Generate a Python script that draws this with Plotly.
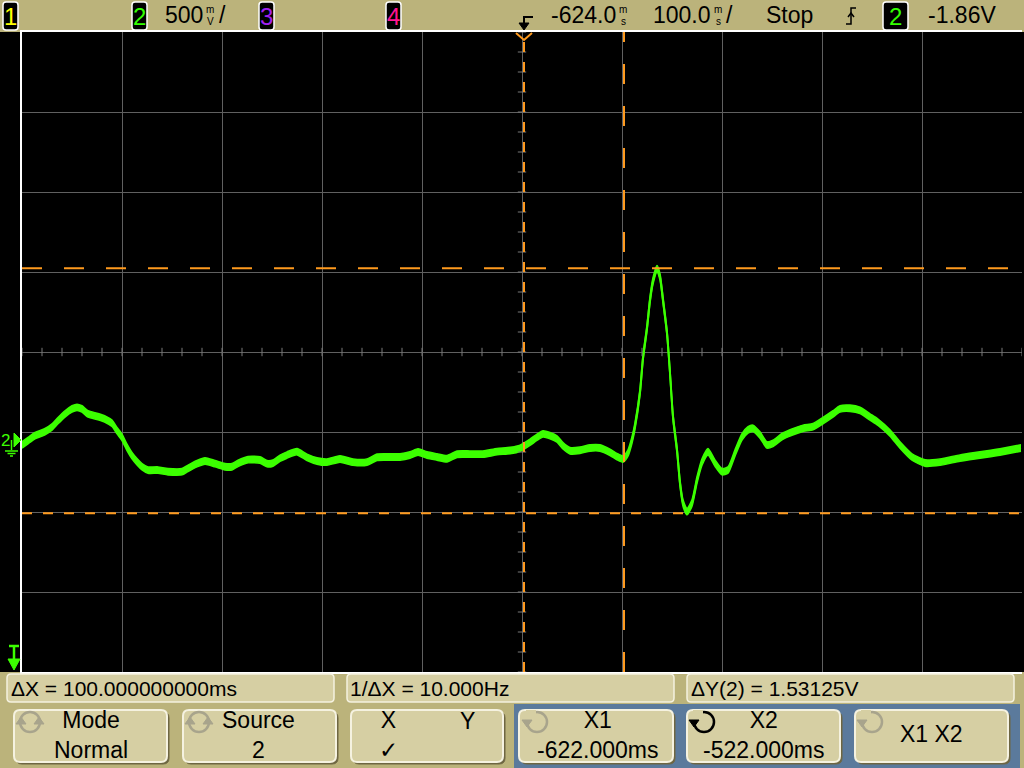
import plotly.graph_objects as go
import numpy as np

# ---------------- data (channel 2 acquisition) ----------------
time_ms = [-1124, -1118, -1111, -1101, -1094, -1088, -1081, -1074, -1069, -1064,
           -1058, -1048, -1041, -1034, -1029, -1024, -1019, -1014, -1009, -1004,
           -998, -988, -978, -964, -958, -949, -941, -931, -921, -914,
           -908, -898, -886, -879, -873, -866, -859, -849, -839, -829,
           -819, -806, -793, -779, -769, -759, -746, -736, -728, -719,
           -709, -699, -689, -676, -663, -649, -636, -626, -616, -609,
           -603, -596, -589, -583, -576, -566, -556, -546, -536, -529,
           -523, -518, -514, -511, -506, -503, -499, -496, -493, -489,
           -486, -483, -479, -476, -473, -469, -466, -463, -459, -454,
           -449, -444, -438, -431, -424, -418, -411, -404, -398, -393,
           -386, -379, -373, -364, -356, -343, -333, -323, -313, -306,
           -296, -286, -276, -268, -256, -246, -234, -221, -206, -186,
           -166, -146, -125]
ch2_volts = [-0.031, -0.004, 0.027, 0.052, 0.081, 0.121, 0.163, 0.194, 0.204, 0.194,
             0.163, 0.146, 0.131, 0.104, 0.058, 0.017, -0.046, -0.098, -0.136, -0.167,
             -0.188, -0.188, -0.198, -0.198, -0.177, -0.148, -0.131, -0.148, -0.167, -0.167,
             -0.146, -0.123, -0.125, -0.148, -0.144, -0.114, -0.094, -0.073, -0.108, -0.131,
             -0.138, -0.119, -0.138, -0.138, -0.108, -0.106, -0.106, -0.094, -0.075, -0.094,
             -0.106, -0.117, -0.089, -0.088, -0.088, -0.073, -0.066, -0.052, -0.014, 0.017,
             0.038, 0.027, 0.006, -0.036, -0.067, -0.064, -0.050, -0.050, -0.077, -0.104,
             -0.119, -0.081, 0.000, 0.088, 0.300, 0.513, 0.700, 0.875, 0.994, 1.070,
             1.019, 0.875, 0.669, 0.419, 0.144, -0.063, -0.269, -0.394, -0.448, -0.394,
             -0.250, -0.138, -0.073, -0.144, -0.198, -0.188, -0.081, 0.019, 0.063, 0.073,
             0.031, -0.031, -0.021, 0.021, 0.044, 0.073, 0.083, 0.121, 0.163, 0.194,
             0.198, 0.185, 0.144, 0.111, 0.044, -0.031, -0.106, -0.144, -0.138, -0.113,
             -0.094, -0.075, -0.050]

# scope settings
x_center_ms = -624.0
time_per_div = 100.0
volts_per_div = 0.5
screen_center_v = 0.55
x1_cursor = -622.0
x2_cursor = -522.0
y1_cursor = -0.458
y2_cursor = y1_cursor + 1.53125

# texts
ch_labels = ["1", "2", "3", "4"]
ch_colors = ["#FFFF00", "#33FF00", "#A020F0", "#FF1493"]
delta_x_text = "ΔX = 100.000000000ms"
inv_delta_x_text = "1/ΔX = 10.000Hz"
delta_y_text = "ΔY(2) = 1.53125V"

# ---------------- layout helpers ----------------
W, H = 1024, 768
ML, MR, MT, MB = 22, 2, 32, 96
PW, PH = W - ML - MR, H - MT - MB
NARROW = "Liberation Sans Narrow, Arial Narrow, Liberation Sans, Arial, sans-serif"
REG = "Liberation Sans, Arial, sans-serif"
GREEN = "#3CFF00"
ORANGE = "#FF9A1E"
KHAKI = "#BBB37B"
BTN = "#D6CFA3"


def fx(p):
    return (p - ML) / PW


def fy(p):
    return (H - MB - p) / PH


shapes = []
anns = []


def rrect(x0, y0, x1, y1, r, fill, line="white", lw=1.5, layer="above"):
    path = (f"M{fx(x0 + r)},{fy(y0)} L{fx(x1 - r)},{fy(y0)} Q{fx(x1)},{fy(y0)} {fx(x1)},{fy(y0 + r)} "
            f"L{fx(x1)},{fy(y1 - r)} Q{fx(x1)},{fy(y1)} {fx(x1 - r)},{fy(y1)} "
            f"L{fx(x0 + r)},{fy(y1)} Q{fx(x0)},{fy(y1)} {fx(x0)},{fy(y1 - r)} "
            f"L{fx(x0)},{fy(y0 + r)} Q{fx(x0)},{fy(y0)} {fx(x0 + r)},{fy(y0)} Z")
    shapes.append(dict(type="path", xref="paper", yref="paper", path=path, fillcolor=fill,
                       line=dict(color=line, width=lw), layer=layer))


def poly(pts, color, fill=None, lw=1.5, closed=False):
    path = "M" + " L".join(f"{fx(a)},{fy(b)}" for a, b in pts) + (" Z" if closed else "")
    shapes.append(dict(type="path", xref="paper", yref="paper", path=path,
                       fillcolor=fill if fill else "rgba(0,0,0,0)",
                       line=dict(color=color, width=lw), layer="above"))


def txt(s, x, y, size=24, color="black", anchor="center", font=NARROW):
    anns.append(dict(text=s, x=fx(x), y=fy(y), xref="paper", yref="paper", xanchor=anchor,
                     yanchor="middle", showarrow=False, borderpad=0,
                     font=dict(size=size, color=color, family=font)))


def unit_stack(top, bottom, x, yc=15):
    txt(top, x, yc - 6, size=10)
    txt(bottom, x, yc + 6, size=10)


def button(x0, y0, x1, y1):
    rrect(x0 + 2, y0 + 2, x1 + 2, y1 + 2, 6, "#6E6642", line="#6E6642", lw=1)
    rrect(x0, y0, x1, y1, 6, BTN, line="#F5F2E0", lw=2)


def knob_icon(cx, cy, color, double):
    shapes.append(dict(type="circle", xref="paper", yref="paper", x0=fx(cx - 10), x1=fx(cx + 10),
                       y0=fy(cy + 10), y1=fy(cy - 10), line=dict(color=color, width=2.5), layer="above"))
    if double:
        poly([(cx - 14, cy + 2), (cx - 4, cy + 2), (cx - 9, cy - 5)], color, fill=color, lw=1, closed=True)
        poly([(cx + 4, cy + 2), (cx + 14, cy + 2), (cx + 9, cy - 5)], color, fill=color, lw=1, closed=True)
    else:
        shapes.append(dict(type="rect", xref="paper", yref="paper", x0=fx(cx - 11), x1=fx(cx - 1),
                           y0=fy(cy - 1), y1=fy(cy - 12), fillcolor=BTN, line=dict(width=0), layer="above"))
        poly([(cx - 15, cy - 2), (cx - 5, cy - 2), (cx - 10, cy + 5)], color, fill=color, lw=1, closed=True)


# ---------------- figure ----------------
fig = go.Figure()

band = 0.02  # trace thickness (noise envelope), style
v = np.array(ch2_volts)
fig.add_trace(go.Scatter(x=time_ms, y=v - band, mode="lines", line=dict(color=GREEN, width=1.5, shape="spline", smoothing=0.6),
                         hoverinfo="skip"))
fig.add_trace(go.Scatter(x=time_ms, y=v + band, mode="lines", fill="tonexty", fillcolor=GREEN,
                         line=dict(color=GREEN, width=1.5, shape="spline", smoothing=0.6), hoverinfo="skip"))
fig.add_trace(go.Scatter(x=time_ms, y=v, mode="lines", line=dict(color=GREEN, width=2, shape="spline", smoothing=0.6),
                         hoverinfo="skip"))

x_lo = x_center_ms - 5 * time_per_div
x_hi = x_center_ms + 5 * time_per_div
y_lo = screen_center_v - 4 * volts_per_div
y_hi = screen_center_v + 4 * volts_per_div

# minor ticks on centre axes
tx = np.arange(x_lo, x_hi + 1e-9, time_per_div / 5)
fig.add_trace(go.Scatter(x=tx, y=[screen_center_v] * len(tx), mode="markers",
                         marker=dict(symbol="line-ns", size=6, line=dict(color="#7A7A7A", width=1)), hoverinfo="skip"))
ty = np.arange(y_lo, y_hi + 1e-9, volts_per_div / 4)
fig.add_trace(go.Scatter(x=[x_center_ms] * len(ty), y=ty, mode="markers",
                         marker=dict(symbol="line-ew", size=6, line=dict(color="#7A7A7A", width=1)), hoverinfo="skip"))

# black screen margins
shapes.append(dict(type="rect", xref="paper", yref="paper", x0=fx(0), x1=fx(W), y0=fy(672), y1=fy(32),
                   fillcolor="black", line=dict(width=0), layer="below"))

# cursors
shapes.append(dict(type="line", xref="x", yref="paper", x0=x1_cursor, x1=x1_cursor, y0=0, y1=1,
                   line=dict(color=ORANGE, width=2, dash="10px,10px")))
shapes.append(dict(type="line", xref="x", yref="paper", x0=x2_cursor, x1=x2_cursor, y0=0, y1=1,
                   line=dict(color=ORANGE, width=2, dash="20px,22px")))
shapes.append(dict(type="line", xref="paper", yref="y", x0=0, x1=1, y0=y1_cursor, y1=y1_cursor,
                   line=dict(color=ORANGE, width=2, dash="10px,11px")))
shapes.append(dict(type="line", xref="paper", yref="y", x0=0, x1=1, y0=y2_cursor, y1=y2_cursor,
                   line=dict(color=ORANGE, width=2, dash="20px,22px")))
# X1 cursor marker at top
poly([(516, 33), (524, 40), (532, 33)], ORANGE, lw=2)

# ---------------- top status bar ----------------
box_x = [3, 132, 259, 386]
for lab, col, bx in zip(ch_labels, ch_colors, box_x):
    rrect(bx, 2, bx + 15, 30, 3, "black", line="white", lw=1.5)
    txt(lab, bx + 7.5, 16, size=24, color=col)
txt("500", 204, 15, size=23, anchor="right")
unit_stack("m", "V", 210)
txt("/", 222, 15, size=23)

# trigger position marker
poly([(524, 24), (524, 17), (533, 17)], "black", lw=2)
poly([(519, 23), (529, 23), (524, 30)], "black", fill="black", lw=1, closed=True)
txt("-624.0", 617, 15, size=23, anchor="right")
unit_stack("m", "s", 623)
txt("100.0", 712, 15, size=23, anchor="right")
unit_stack("m", "s", 718)
txt("/", 729, 15, size=23)
txt("Stop", 789, 15, size=23)
# rising-edge trigger symbol
poly([(846, 24), (851, 24), (851, 8), (856, 8)], "black", lw=1.5)
poly([(848, 17), (851, 13), (854, 17)], "black", lw=1.5)
rrect(883, 2, 908, 30, 3, "black", line="white", lw=1.5)
txt("2", 895.5, 16, size=24, color="#33FF00")
txt("-1.86V", 997, 15, size=23, anchor="right")

# ---------------- left screen markers ----------------
txt("2", 5, 440, size=17, color=GREEN, font=REG)
poly([(14, 433), (21, 440), (14, 447)], GREEN, fill=GREEN, lw=1, closed=True)
poly([(11.5, 440), (11.5, 450)], GREEN, lw=1.5)
poly([(5, 451), (18, 451)], GREEN, lw=1.5)
poly([(7.5, 453.5), (15.5, 453.5)], GREEN, lw=1.5)
poly([(10, 456), (13, 456)], GREEN, lw=1.5)
# trigger level marker (T)
poly([(9, 646), (19, 646)], GREEN, lw=2.5)
poly([(14, 646), (14, 660)], GREEN, lw=2.5)
poly([(8, 659), (20, 659), (14, 670)], GREEN, fill=GREEN, lw=1, closed=True)

# ---------------- bottom softkey area ----------------
rrect(7, 674, 334, 702, 4, BTN, line="#F5F2E0", lw=1.5)
rrect(347, 674, 674, 702, 4, BTN, line="#F5F2E0", lw=1.5)
rrect(687, 674, 1014, 702, 4, BTN, line="#F5F2E0", lw=1.5)
txt(delta_x_text, 10, 688, size=21, font=REG, anchor="left")
txt(inv_delta_x_text, 349, 688, size=21, font=REG, anchor="left")
txt(delta_y_text, 690, 688, size=21, font=REG, anchor="left")

shapes.append(dict(type="rect", xref="paper", yref="paper", x0=fx(514), x1=fx(1020), y0=fy(768), y1=fy(704),
                   fillcolor="#5B7A9C", line=dict(width=0), layer="above"))

button(14, 710, 167, 762)
button(183, 710, 336, 762)
button(351, 710, 503, 762)
button(519, 710, 673, 762)
button(687, 710, 840, 762)
button(855, 710, 1008, 762)

knob_icon(30, 722, "#A8A48C", True)
knob_icon(199, 722, "#A8A48C", True)
knob_icon(537, 722, "#A8A48C", False)
knob_icon(704, 722, "black", False)
knob_icon(872, 722, "#A8A48C", False)

BS = 23
txt("Mode<br>Normal", 91, 735, size=BS)
txt("Source<br>2", 258, 735, size=BS)
txt("X<br>✓", 388, 735, size=BS)
txt("Y", 467, 721, size=BS)
txt("X1<br>-622.000ms", 597, 735, size=BS)
txt("X2<br>-522.000ms", 763, 735, size=BS)
txt("X1 X2", 931, 734, size=BS)

fig.update_layout(
    width=W, height=H, autosize=False,
    margin=dict(l=ML, r=MR, t=MT, b=MB, pad=0),
    paper_bgcolor=KHAKI, plot_bgcolor="black",
    showlegend=False, hovermode=False,
    shapes=shapes, annotations=anns,
    xaxis=dict(range=[x_lo, x_hi], tick0=x_lo, dtick=time_per_div, showticklabels=False,
               ticks="", showgrid=True, gridcolor="#606060", gridwidth=1, zeroline=False,
               showline=True, linecolor="white", linewidth=2, mirror=True, fixedrange=True),
    yaxis=dict(range=[y_lo, y_hi], tick0=y_lo, dtick=volts_per_div, showticklabels=False,
               ticks="", showgrid=True, gridcolor="#606060", gridwidth=1, zeroline=False,
               showline=True, linecolor="white", linewidth=2, mirror=False, fixedrange=True),
)

fig.write_html("out.html", config={"displayModeBar": False, "staticPlot": True},
               post_script="document.body.style.margin='0';document.body.style.overflow='hidden';")
